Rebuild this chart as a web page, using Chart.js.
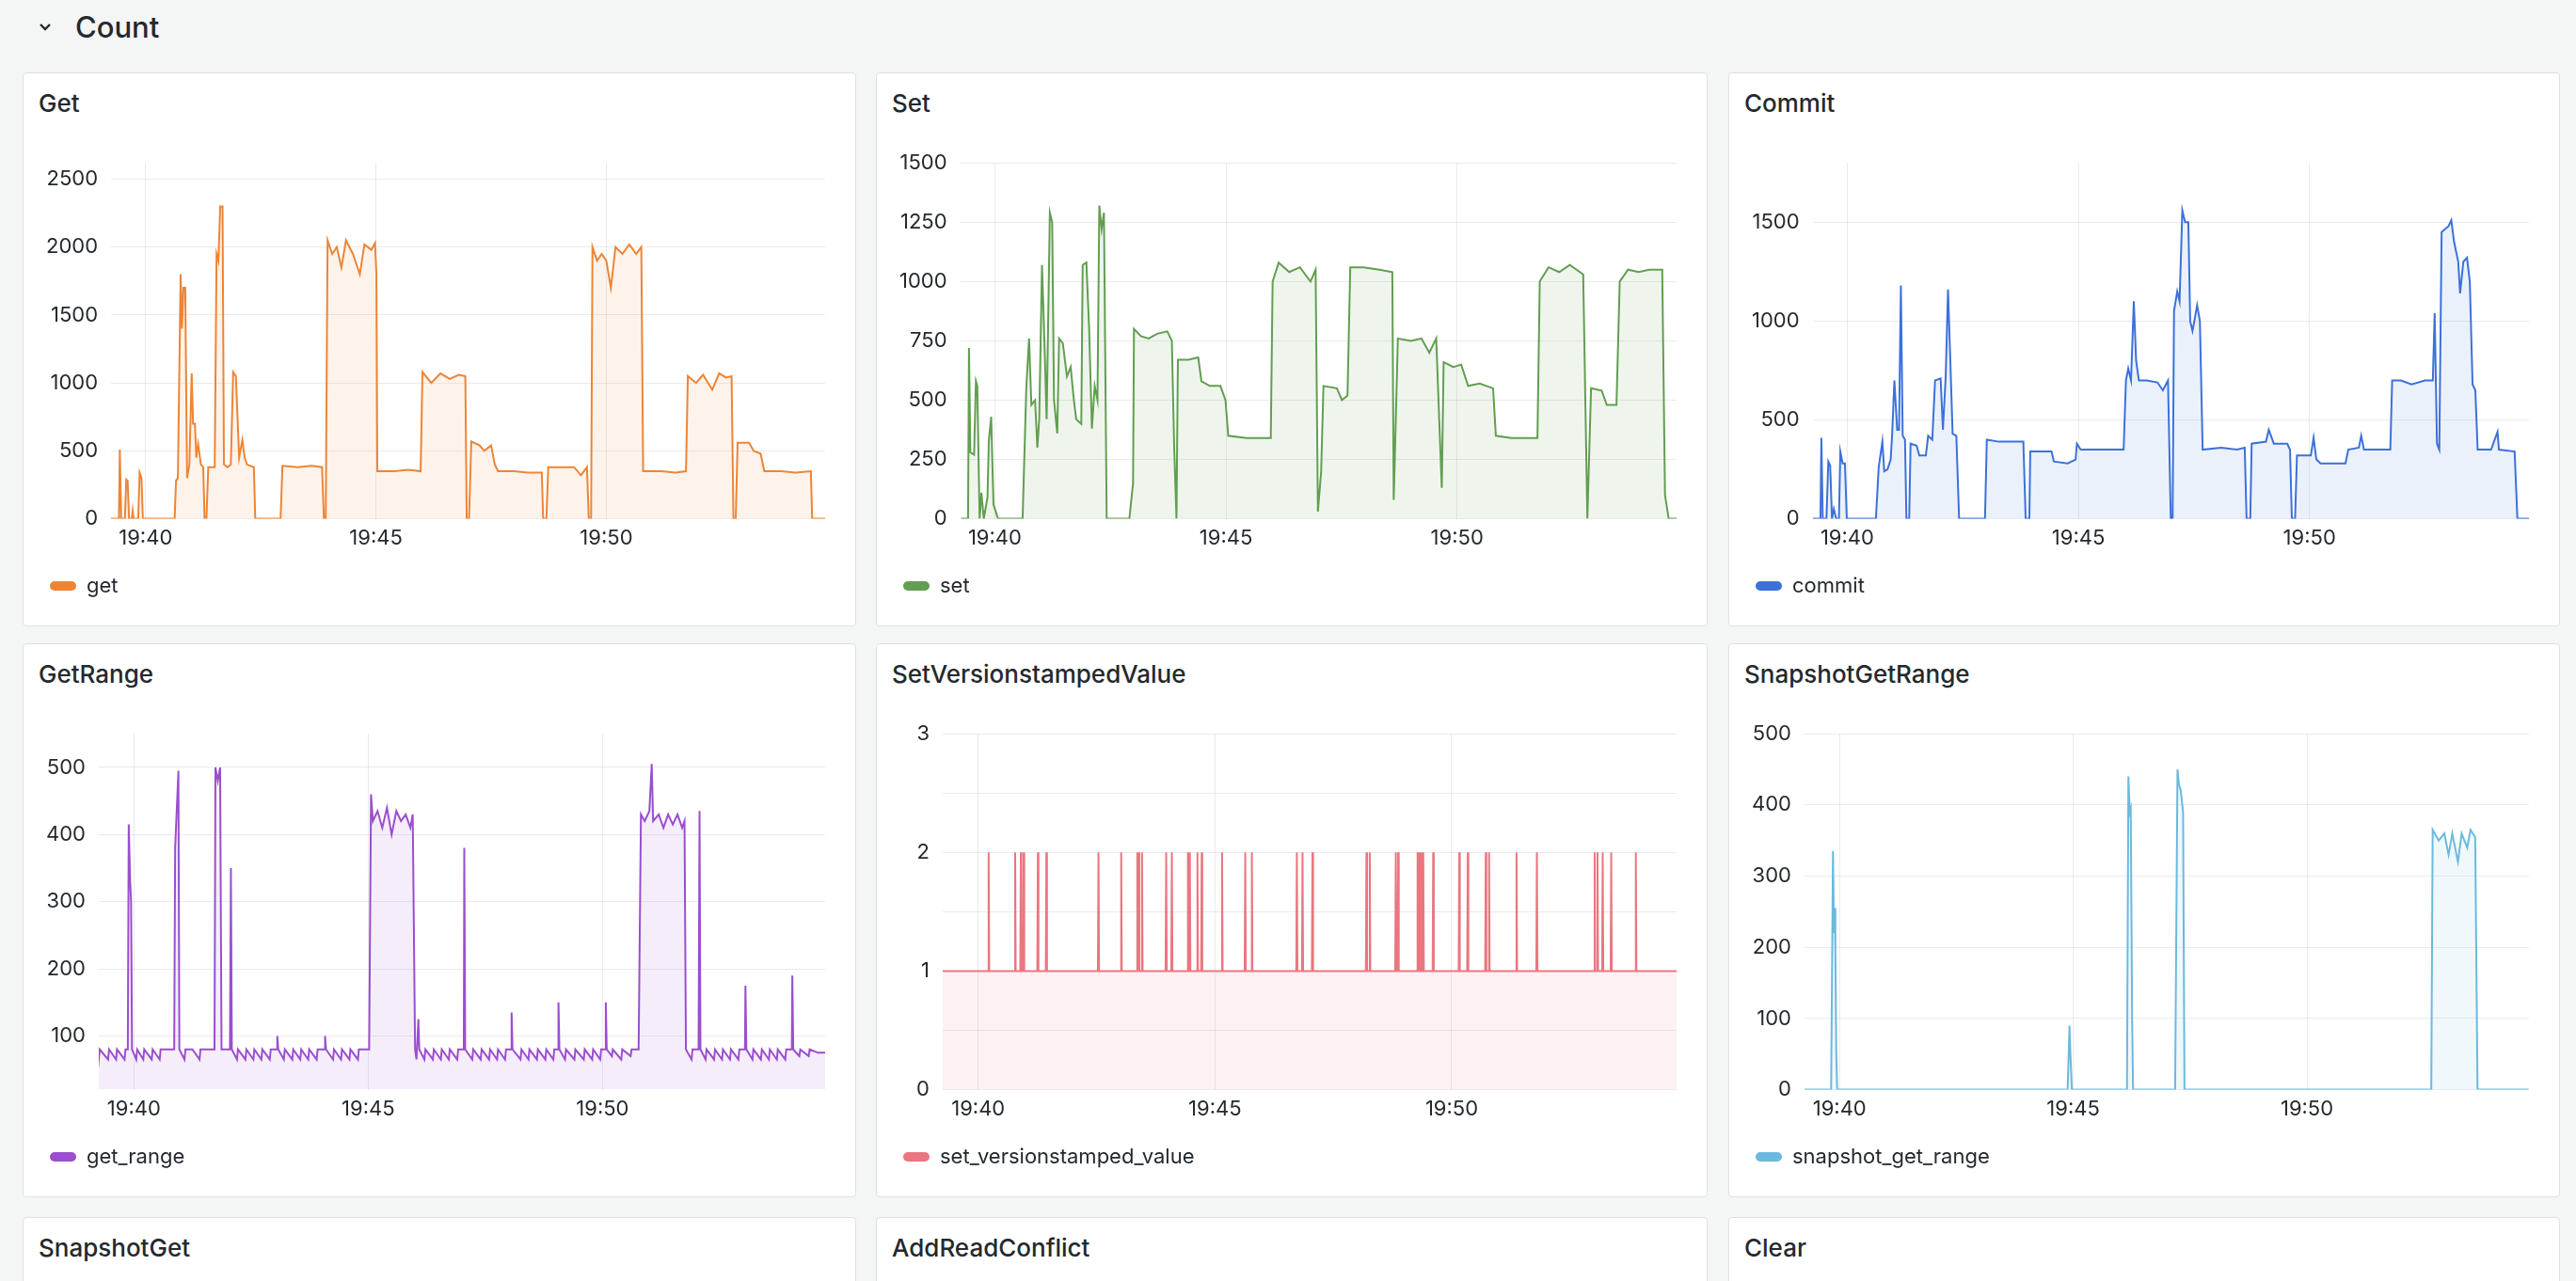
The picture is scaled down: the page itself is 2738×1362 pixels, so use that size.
<!DOCTYPE html>
<html><head><meta charset="utf-8">
<script src="https://cdn.jsdelivr.net/npm/chart.js@4.4.1/dist/chart.umd.min.js"></script>
<style>
html,body{margin:0;padding:0;background:#f4f5f5;width:2738px;height:1362px;overflow:hidden;font-family:Inter,"Open Sans",sans-serif;color:#24292e}
#hdr{position:absolute;left:40px;top:10px;font-size:31px;font-weight:500;display:flex;align-items:center}
#hdr svg{margin-right:24px}
.panel{position:absolute;background:#fff;border:1px solid #dfe0e3;border-radius:4px;box-sizing:border-box;overflow:hidden}
.title{position:absolute;left:16px;top:16px;font-size:26px;font-weight:500;color:#24292e}
.cw{position:absolute;left:0;right:0;top:68px;height:500px}
</style></head><body>
<div id="hdr"><svg width="16" height="12" viewBox="0 0 16 12"><path d="M3 3 L8 8 L13 3" stroke="#24292e" stroke-width="2.4" fill="none"/></svg>Count</div>
<div id="root"></div>
<script>
// ---- data (time in minutes after 19:00, value) ----
const xTickValues = [40, 45, 50];
const xTickLabels = ["19:40", "19:45", "19:50"];
const xMin = 39.25, xMax = 54.75;

const getSeries = [[39.25,0],[39.42,0],[39.44,510],[39.47,0],[39.55,0],[39.58,290],[39.61,280],[39.64,0],[39.7,0],[39.72,60],[39.74,0],[39.84,0],[39.87,340],[39.91,300],[39.94,0],[40.63,0],[40.66,280],[40.7,300],[40.76,1800],[40.79,1400],[40.82,1700],[40.86,1700],[40.9,300],[40.95,400],[41.0,1070],[41.03,700],[41.07,700],[41.1,450],[41.14,550],[41.2,400],[41.25,380],[41.28,0],[41.32,0],[41.36,380],[41.5,380],[41.54,1950],[41.58,1900],[41.62,2300],[41.67,2300],[41.7,400],[41.78,380],[41.85,400],[41.9,1080],[41.96,1050],[42.03,450],[42.1,580],[42.15,450],[42.2,400],[42.35,380],[42.38,0],[42.93,0],[42.97,390],[43.3,380],[43.6,390],[43.83,380],[43.87,0],[43.91,0],[43.95,2050],[44.05,1950],[44.15,2000],[44.25,1850],[44.35,2050],[44.5,1950],[44.65,1800],[44.75,2020],[44.9,1980],[44.98,2030],[45.01,1800],[45.03,350],[45.4,350],[45.7,360],[45.97,350],[46.01,1080],[46.2,1000],[46.4,1070],[46.6,1030],[46.8,1060],[46.94,1050],[46.97,0],[47.02,0],[47.07,570],[47.25,540],[47.35,500],[47.5,540],[47.58,400],[47.65,350],[48.0,350],[48.3,340],[48.6,340],[48.63,0],[48.7,0],[48.74,380],[49.0,380],[49.3,380],[49.45,320],[49.58,380],[49.62,0],[49.67,0],[49.7,2000],[49.8,1900],[49.9,1950],[50.0,1900],[50.1,1700],[50.2,2000],[50.35,1950],[50.5,2020],[50.65,1950],[50.76,2000],[50.8,350],[51.2,350],[51.5,340],[51.73,350],[51.77,1050],[51.95,1000],[52.1,1060],[52.3,950],[52.45,1070],[52.6,1040],[52.72,1050],[52.76,0],[52.81,0],[52.85,560],[53.1,560],[53.2,500],[53.35,480],[53.43,350],[53.8,350],[54.1,340],[54.44,350],[54.47,0],[54.75,0]];

const setSeries = [[39.27,0],[39.42,0],[39.44,720],[39.47,280],[39.55,270],[39.59,580],[39.62,560],[39.67,0],[39.71,110],[39.76,0],[39.84,90],[39.87,330],[39.92,430],[39.97,60],[40.07,0],[40.6,0],[40.68,550],[40.74,760],[40.79,480],[40.87,500],[40.92,300],[40.96,420],[41.02,1070],[41.08,700],[41.12,420],[41.19,1290],[41.24,1250],[41.28,500],[41.35,360],[41.39,760],[41.47,740],[41.56,600],[41.64,640],[41.71,500],[41.76,420],[41.87,400],[41.9,1070],[41.98,1080],[42.04,800],[42.1,380],[42.16,560],[42.22,500],[42.26,1320],[42.31,1220],[42.36,1290],[42.42,0],[42.91,0],[42.99,150],[43.01,800],[43.16,770],[43.33,760],[43.51,780],[43.73,790],[43.83,750],[43.88,300],[43.93,0],[43.96,670],[44.19,670],[44.4,680],[44.47,580],[44.65,560],[44.88,560],[44.99,500],[45.05,350],[45.45,340],[45.97,340],[46.01,1000],[46.14,1080],[46.37,1040],[46.6,1060],[46.83,1000],[46.94,1050],[46.99,30],[47.06,200],[47.11,560],[47.4,550],[47.51,500],[47.63,520],[47.69,1060],[47.97,1060],[48.32,1050],[48.6,1040],[48.63,80],[48.72,760],[49.0,750],[49.23,760],[49.4,700],[49.55,760],[49.67,130],[49.71,660],[49.92,640],[50.09,650],[50.24,560],[50.49,570],[50.78,550],[50.84,350],[51.18,340],[51.74,340],[51.79,1000],[51.98,1060],[52.21,1040],[52.44,1070],[52.73,1030],[52.82,0],[52.9,550],[53.13,540],[53.24,480],[53.45,480],[53.52,1000],[53.7,1050],[53.93,1040],[54.16,1050],[54.44,1050],[54.5,100],[54.58,0],[54.75,0]];

const commitSeries = [[39.25,0],[39.42,0],[39.44,410],[39.47,0],[39.55,0],[39.59,290],[39.63,270],[39.67,0],[39.71,50],[39.76,0],[39.82,0],[39.85,340],[39.9,280],[39.95,280],[39.99,0],[40.62,0],[40.68,260],[40.76,390],[40.8,240],[40.87,250],[40.94,300],[40.97,420],[41.02,700],[41.08,450],[41.12,450],[41.16,1180],[41.2,420],[41.25,400],[41.28,0],[41.34,0],[41.37,380],[41.5,370],[41.56,320],[41.7,320],[41.75,420],[41.84,400],[41.9,700],[42.02,710],[42.07,450],[42.13,720],[42.18,1160],[42.23,800],[42.28,430],[42.36,420],[42.42,0],[42.98,0],[43.02,400],[43.28,390],[43.51,390],[43.81,390],[43.86,0],[43.94,0],[43.96,340],[44.19,340],[44.42,340],[44.47,290],[44.77,280],[44.94,300],[44.97,380],[45.05,350],[45.45,350],[45.98,350],[46.03,700],[46.08,760],[46.14,700],[46.2,1100],[46.25,800],[46.31,700],[46.48,700],[46.71,690],[46.83,650],[46.94,700],[47.0,0],[47.04,0],[47.07,1050],[47.14,1150],[47.19,1100],[47.25,1560],[47.31,1500],[47.38,1500],[47.42,1000],[47.47,950],[47.51,1000],[47.57,1080],[47.63,1000],[47.69,350],[48.09,360],[48.43,350],[48.6,360],[48.64,0],[48.72,0],[48.75,380],[49.06,390],[49.12,450],[49.23,380],[49.52,380],[49.58,350],[49.62,0],[49.69,0],[49.73,320],[50.03,320],[50.09,410],[50.15,300],[50.24,280],[50.78,280],[50.84,350],[51.07,360],[51.12,420],[51.18,350],[51.75,350],[51.79,700],[51.98,700],[52.21,680],[52.5,700],[52.67,700],[52.71,1040],[52.76,380],[52.81,350],[52.86,1450],[53.01,1480],[53.07,1510],[53.13,1400],[53.22,1300],[53.26,1140],[53.33,1300],[53.41,1320],[53.47,1200],[53.53,680],[53.59,650],[53.64,350],[53.93,350],[54.07,440],[54.1,350],[54.44,340],[54.5,0],[54.75,0]];

const getRangeSeries = [[39.22,80],[39.25,65],[39.27,80],[39.45,65],[39.47,80],[39.62,65],[39.64,80],[39.8,65],[39.82,80],[39.87,80],[39.89,415],[39.92,330],[39.94,300],[39.96,80],[40.05,65],[40.07,80],[40.2,65],[40.22,80],[40.38,65],[40.4,80],[40.55,65],[40.57,80],[40.86,80],[40.88,380],[40.95,495],[40.97,80],[41.08,65],[41.1,80],[41.25,80],[41.4,65],[41.42,80],[41.72,80],[41.74,500],[41.79,480],[41.84,500],[41.87,80],[42.05,80],[42.07,350],[42.09,80],[42.2,65],[42.22,80],[42.38,65],[42.4,80],[42.55,65],[42.57,80],[42.72,65],[42.74,80],[42.9,65],[42.92,80],[43.05,80],[43.06,100],[43.08,80],[43.2,65],[43.22,80],[43.38,65],[43.4,80],[43.55,65],[43.57,80],[43.72,65],[43.74,80],[43.9,65],[43.92,80],[44.07,80],[44.08,100],[44.1,80],[44.25,65],[44.27,80],[44.42,65],[44.44,80],[44.6,65],[44.62,80],[44.78,65],[44.8,80],[45.02,80],[45.06,460],[45.1,420],[45.2,435],[45.3,410],[45.4,440],[45.5,400],[45.6,435],[45.7,420],[45.8,430],[45.9,410],[45.95,430],[46.0,80],[46.03,65],[46.07,125],[46.09,80],[46.2,65],[46.22,80],[46.38,65],[46.4,80],[46.55,65],[46.57,80],[46.72,65],[46.74,80],[46.9,65],[46.92,80],[47.04,80],[47.05,380],[47.07,80],[47.22,65],[47.24,80],[47.4,65],[47.42,80],[47.58,65],[47.6,80],[47.75,65],[47.77,80],[47.92,65],[47.94,80],[48.05,80],[48.06,135],[48.08,80],[48.25,65],[48.27,80],[48.42,65],[48.44,80],[48.6,65],[48.62,80],[48.78,65],[48.8,80],[48.95,65],[48.97,80],[49.05,80],[49.06,150],[49.08,80],[49.2,65],[49.22,80],[49.4,65],[49.42,80],[49.6,65],[49.62,80],[49.78,65],[49.8,80],[49.95,65],[49.97,80],[50.06,80],[50.07,150],[50.09,80],[50.2,70],[50.22,80],[50.4,65],[50.42,80],[50.6,70],[50.62,80],[50.77,80],[50.82,430],[50.9,420],[51.0,435],[51.05,505],[51.08,420],[51.2,430],[51.3,410],[51.4,430],[51.5,415],[51.6,430],[51.7,410],[51.75,420],[51.78,80],[51.9,65],[51.92,80],[52.05,80],[52.07,435],[52.09,80],[52.2,65],[52.22,80],[52.38,65],[52.4,80],[52.55,65],[52.57,80],[52.72,65],[52.74,80],[52.9,65],[52.92,80],[53.04,80],[53.05,175],[53.07,80],[53.2,65],[53.22,80],[53.38,65],[53.4,80],[53.55,65],[53.57,80],[53.72,65],[53.74,80],[53.9,65],[53.92,80],[54.04,80],[54.05,190],[54.07,80],[54.2,70],[54.22,80],[54.4,70],[54.42,80],[54.6,75],[54.75,75]];

// set_versionstamped_value: baseline 1 with brief spikes to 2 at these times
const svBase = 1, svPeak = 2;
const svSpikeTimes = [40.22,40.78,40.9,40.96,41.26,41.44,42.54,43.02,43.36,43.39,43.46,43.97,44.09,44.43,44.47,44.63,44.72,45.15,45.64,45.78,46.73,46.85,47.06,48.2,48.27,48.82,48.87,49.28,49.31,49.35,49.4,49.61,50.16,50.34,50.72,50.79,51.37,51.8,53.02,53.08,53.19,53.37,53.89];

const snapshotSeries = [[39.21,0],[39.82,0],[39.86,335],[39.88,220],[39.9,255],[39.91,200],[39.93,50],[39.95,0],[44.88,0],[44.92,90],[44.94,50],[44.97,0],[46.15,0],[46.18,440],[46.21,390],[46.23,395],[46.26,100],[46.28,0],[47.18,0],[47.23,450],[47.26,430],[47.3,420],[47.35,390],[47.38,0],[52.66,0],[52.69,365],[52.82,350],[52.94,360],[53.03,330],[53.11,360],[53.23,320],[53.31,360],[53.43,340],[53.5,365],[53.6,355],[53.65,0],[54.74,0]];

const getTicks = [0,500,1000,1500,2000,2500];
const setTicks = [0,250,500,750,1000,1250,1500];
const commitTicks = [0,500,1000,1500];
const getRangeTicks = [100,200,300,400,500];
const svTicks = [0,0.5,1,1.5,2,2.5,3];
const snapshotTicks = [0,100,200,300,400,500];

// ---- build ----
function svData(){
  const d=[[xMin,svBase]];
  svSpikeTimes.forEach(t=>{d.push([t-0.012,svBase],[t,svPeak],[t+0.012,svBase]);});
  d.push([xMax,svBase]);
  return d;
}
const panels = [
  {title:"Get",label:"get",data:getSeries,color:"#ed8536",ticks:getTicks,min:0,max:2620,col:0,row:0},
  {title:"Set",label:"set",data:setSeries,color:"#629e51",ticks:setTicks,min:0,max:1500,col:1,row:0},
  {title:"Commit",label:"commit",data:commitSeries,color:"#3d71d9",ticks:commitTicks,min:0,max:1800,col:2,row:0},
  {title:"GetRange",label:"get_range",data:getRangeSeries,color:"#9a4fcd",ticks:getRangeTicks,min:20,max:550,col:0,row:1},
  {title:"SetVersionstampedValue",label:"set_versionstamped_value",data:svData(),color:"#ea7680",ticks:svTicks,min:0,max:3,col:1,row:1,half:true,yw:60},
  {title:"SnapshotGetRange",label:"snapshot_get_range",data:snapshotSeries,color:"#6cb9de",ticks:snapshotTicks,min:0,max:500,col:2,row:1},
];
const colX=[24,931,1837], colW=[886,884,884], rowY=[77,684,1294];
const root=document.getElementById('root');
function hexA(h,a){const n=parseInt(h.slice(1),16);return `rgba(${n>>16},${(n>>8)&255},${n&255},${a})`;}
function mkPanel(x,y,w,title){
  const p=document.createElement('div');p.className='panel';
  p.style.left=x+'px';p.style.top=y+'px';p.style.width=w+'px';p.style.height=(y>1200?120:589)+'px';
  const t=document.createElement('div');t.className='title';t.textContent=title;p.appendChild(t);
  root.appendChild(p);return p;
}
panels.forEach(cfg=>{
  const p=mkPanel(colX[cfg.col],rowY[cfg.row],colW[cfg.col],cfg.title);
  const cw=document.createElement('div');cw.className='cw';p.appendChild(cw);
  const cv=document.createElement('canvas');cw.appendChild(cv);
  new Chart(cv,{type:'line',
    data:{datasets:[{label:cfg.label,data:cfg.data.map(d=>({x:d[0],y:d[1]})),borderColor:cfg.color,backgroundColor:hexA(cfg.color,0.1),
      fill:'start',borderWidth:2,pointRadius:0,tension:0}]},
    options:{animation:false,responsive:true,maintainAspectRatio:false,
      layout:{padding:{left:10,right:32,top:14,bottom:2}},
      plugins:{tooltip:{enabled:false},
        legend:{position:'bottom',align:'start',
          labels:{font:{family:'Inter',size:22},color:'#24292e',boxWidth:28,boxHeight:10,useBorderRadius:true,borderRadius:5,padding:18,
            generateLabels(ch){return Chart.defaults.plugins.legend.labels.generateLabels(ch).map(l=>{l.fillStyle=cfg.color;l.strokeStyle=cfg.color;l.lineWidth=0;return l;});}}}},
      scales:{
        x:{type:'linear',min:xMin,max:xMax,
          afterBuildTicks(s){s.ticks=xTickValues.map(v=>({value:v}));},
          ticks:{callback(v){const i=xTickValues.indexOf(v);return i>=0?xTickLabels[i]:'';},font:{family:'Inter',size:22},color:'#24292e',padding:8,maxRotation:0,autoSkip:false},
          grid:{color:'rgba(0,0,0,0.08)',drawTicks:false},border:{display:false}},
        y:{min:cfg.min,max:cfg.max,
          afterBuildTicks(s){s.ticks=cfg.ticks.map(v=>({value:v}));},
          afterFit(s){if(cfg.yw)s.width=Math.max(s.width,cfg.yw);},
          ticks:{callback(v){return (cfg.half && v%1!==0)?'':String(v);},font:{family:'Inter',size:22},color:'#24292e',padding:14,autoSkip:false},
          grid:{color:'rgba(0,0,0,0.08)',drawTicks:false},border:{display:false}}
      }}});
});
["SnapshotGet","AddReadConflict","Clear"].forEach((t,i)=>mkPanel(colX[i],rowY[2],colW[i],t));
</script></body></html>
